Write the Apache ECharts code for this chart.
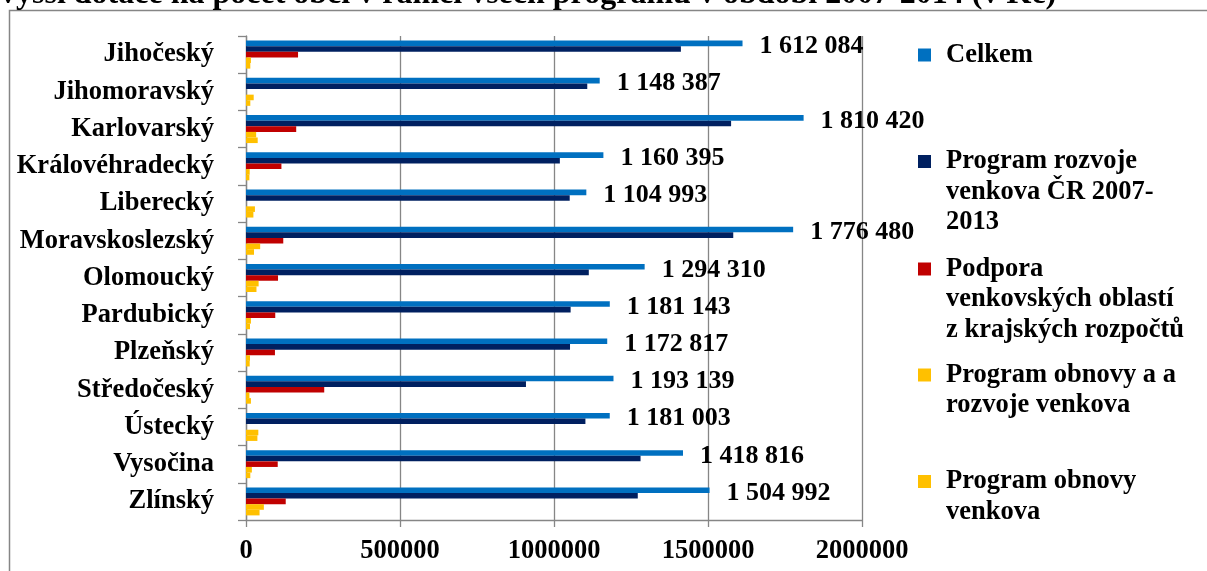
<!DOCTYPE html>
<html>
<head>
<meta charset="utf-8">
<script src="https://cdn.jsdelivr.net/npm/echarts@6/dist/echarts.min.js"></script>
<style>
  html, body { margin: 0; padding: 0; background: #fff; }
  #chart { width: 1207px; height: 571px; }
</style>
</head>
<body>
<div id="chart"></div>
<script>
// Regions (kraje), top to bottom
const categories = ['Jihočeský', 'Jihomoravský', 'Karlovarský', 'Královéhradecký', 'Liberecký',
  'Moravskoslezský', 'Olomoucký', 'Pardubický', 'Plzeňský', 'Středočeský', 'Ústecký', 'Vysočina', 'Zlínský'];

// Subsidy per municipality (Kč)
const celkem = [1612084, 1148387, 1810420, 1160395, 1104993, 1776480, 1294310, 1181143, 1172817, 1193139, 1181003, 1418816, 1504992];
const prv = [1412000, 1108000, 1575000, 1019000, 1051000, 1582000, 1113000, 1054000, 1052000, 909000, 1102000, 1281000, 1272000];
const podpora = [169000, 0, 163000, 115000, 0, 121000, 104000, 95000, 94000, 254000, 0, 103000, 129000];
const porv = [16000, 25000, 33000, 12000, 29000, 46000, 41000, 16000, 13000, 11000, 40000, 19000, 58000];
const pov = [14000, 14000, 38000, 11000, 24000, 26000, 34000, 13000, 12000, 16000, 37000, 14000, 44000];

const xTicks = [0, 500000, 1000000, 1500000, 2000000];

const seriesNames = [
  'Celkem',
  'Program rozvoje venkova ČR 2007-2013',
  'Podpora venkovských oblastí z krajských rozpočtů',
  'Program obnovy a a rozvoje venkova',
  'Program obnovy venkova'
];
const legendLines = [
  ['Celkem'],
  ['Program rozvoje', 'venkova ČR 2007-', '2013'],
  ['Podpora', 'venkovských oblastí', 'z krajských rozpočtů'],
  ['Program obnovy a a', 'rozvoje venkova'],
  ['Program obnovy', 'venkova']
];
const colors = ['#0070C0', '#002060', '#C00000', '#FFC000', '#FFC000'];

const FONT = "'Liberation Serif', 'Times New Roman', serif";
const FS = 26.5;
const GREY = '#868686';
const LH = 30.5;
const iconCenters = [55, 161.5, 269, 375, 481.5];

const fmtSpaces = v => String(v).replace(/\B(?=(\d{3})+(?!\d))/g, ' ');

// one legend block per series, icon aligned with the first text line
const legends = seriesNames.map((name, i) => {
  const n = legendLines[i].length;
  const blank = new Array(n - 1).fill('').join('\n');
  return {
    data: [name],
    orient: 'vertical',
    left: 918,
    top: iconCenters[i] - (2 * n - 1) * LH / 2,
    padding: 0,
    icon: 'rect',
    itemWidth: 13,
    itemHeight: 13,
    selectedMode: false,
    formatter: () => (n > 1 ? blank + '\n' : '') + legendLines[i].join('\n'),
    textStyle: {
      fontFamily: FONT, fontWeight: 'bold', fontSize: FS, color: '#000',
      lineHeight: LH, padding: [0, 0, 0, 10]
    }
  };
});

const dataSets = [celkem, prv, podpora, porv, pov];

const chart = echarts.init(document.getElementById('chart'), null, { renderer: 'canvas' });
chart.setOption({
  animation: false,
  backgroundColor: '#fff',
  textStyle: { fontFamily: FONT },
  legend: legends,
  grid: { left: 246, right: 345, top: 36, bottom: 51, containLabel: false },
  xAxis: {
    type: 'value',
    min: xTicks[0],
    max: xTicks[xTicks.length - 1],
    interval: xTicks[1] - xTicks[0],
    axisLine: { show: true, lineStyle: { color: GREY, width: 1.3 } },
    axisTick: { show: true, length: 7, lineStyle: { color: GREY, width: 1.3 } },
    splitLine: { show: true, lineStyle: { color: GREY, width: 1.3 } },
    axisLabel: {
      margin: 18, color: '#000', fontFamily: FONT, fontWeight: 'bold', fontSize: FS,
      formatter: v => String(v)
    }
  },
  yAxis: {
    type: 'category',
    data: categories,
    inverse: true,
    axisLine: { show: true, lineStyle: { color: GREY, width: 1.3 } },
    axisTick: { show: true, length: 8, lineStyle: { color: GREY, width: 1.3 } },
    axisLabel: { margin: 32, color: '#000', fontFamily: FONT, fontWeight: 'bold', fontSize: FS }
  },
  series: seriesNames.map((name, i) => ({
    name,
    type: 'bar',
    data: dataSets[i],
    barWidth: 5.6,
    barGap: '0%',
    itemStyle: { color: colors[i] },
    label: i === 0 ? {
      show: true, position: 'right', distance: 17, offset: [0, 3],
      color: '#000', fontFamily: FONT, fontWeight: 'bold', fontSize: 26,
      formatter: p => fmtSpaces(p.value)
    } : { show: false }
  })),
  graphic: [
    {
      type: 'rect', silent: true, z: -1,
      shape: { x: 9.5, y: 10.5, width: 1300, height: 700 },
      style: { fill: 'none', stroke: GREY, lineWidth: 1.5 }
    },
    {
      type: 'text', silent: true, left: 0, top: -21,
      style: {
        text: 'vyšší dotace na počet obcí v rámci všech programů v období 2007-2014 (v Kč)',
        font: "bold 32px 'Liberation Serif', serif", fill: '#000'
      }
    }
  ]
});
</script>
</body>
</html>
